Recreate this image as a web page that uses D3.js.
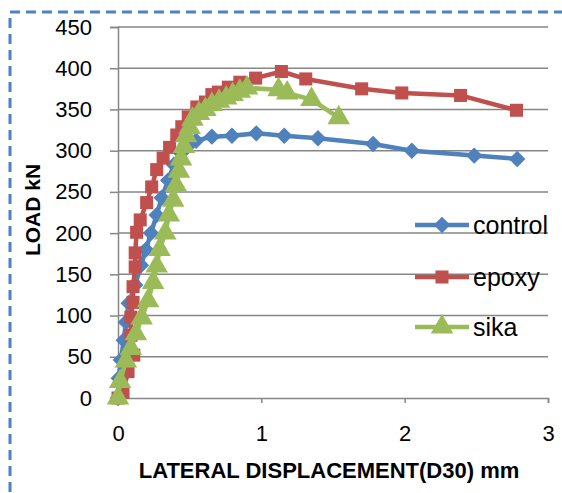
<!DOCTYPE html>
<html>
<head>
<meta charset="utf-8">
<script src="https://cdn.jsdelivr.net/npm/d3@7"></script>
<style>
  body { margin: 0; background: #fff; }
  text { font-family: "Liberation Sans", Arial, sans-serif; }
</style>
</head>
<body>
<svg id="chart" width="562" height="493"></svg>
<script>
// load (kN) vs lateral displacement (mm)
var controlX = [0, 0.005, 0.02, 0.04, 0.055, 0.075, 0.12, 0.16, 0.195, 0.23, 0.27, 0.305, 0.35, 0.39, 0.44, 0.49, 0.545, 0.655, 0.795, 0.965, 1.16, 1.395, 1.78, 2.05, 2.485, 2.785];
var controlY = [0, 24, 46, 70, 92, 115, 137, 161, 180, 200, 222, 243, 264, 283, 297, 306, 312, 317, 318, 321, 318, 315, 308, 300, 294, 290];

var epoxyX = [0, 0.035, 0.07, 0.11, 0.09, 0.09, 0.105, 0.105, 0.12, 0.12, 0.13, 0.155, 0.2, 0.235, 0.27, 0.315, 0.36, 0.41, 0.445, 0.49, 0.55, 0.61, 0.655, 0.7, 0.77, 0.85, 0.96, 1.14, 1.31, 1.7, 1.98, 2.39, 2.78];
var epoxyY = [0, 7, 32, 52, 76, 98, 116, 135, 159, 176, 201, 216, 237, 256, 277, 291, 304, 319, 329, 341, 353, 359, 368, 371, 377, 383, 388, 396, 387, 375, 370, 367, 349];

var sikaX = [0, 0.015, 0.055, 0.09, 0.125, 0.165, 0.21, 0.245, 0.27, 0.29, 0.33, 0.355, 0.385, 0.405, 0.425, 0.44, 0.46, 0.475, 0.5, 0.52, 0.565, 0.61, 0.655, 0.705, 0.755, 0.8, 0.85, 0.9, 1.12, 1.18, 1.35, 1.54];
var sikaY = [0, 20, 45, 60, 78, 97, 118, 140, 160, 180, 200, 222, 240, 258, 275, 290, 305, 318, 328, 338, 345, 350, 356, 360, 364, 368, 372, 376, 374, 370, 362, 340];

var seriesNames = ["control", "epoxy", "sika"];
var xTicks = [0, 1, 2, 3];
var yTicks = [0, 50, 100, 150, 200, 250, 300, 350, 400, 450];

var svg = d3.select("#chart");

// dashed frame round the chart
svg.append("rect")
    .attr("x", 10).attr("y", 12)
    .attr("width", 600).attr("height", 520)
    .attr("fill", "none")
    .attr("stroke", "#4F81BD")
    .attr("stroke-width", 3)
    .attr("stroke-dasharray", "10,6");

var x = d3.scaleLinear().domain([0, 3]).range([118, 548]);
var y = d3.scaleLinear().domain([0, 450]).range([398, 27]);

var grey = "#868686";

/* gridlines */
svg.append("g")
  .selectAll("line")
  .data(yTicks.slice(1))
  .enter().append("line")
    .attr("x1", x(0)).attr("x2", x(3))
    .attr("y1", function(d) { return y(d); })
    .attr("y2", function(d) { return y(d); })
    .attr("stroke", grey)
    .attr("stroke-width", 1.5);

/* y axis */
var yAxis = svg.append("g")
    .attr("transform", "translate(" + x(0) + ",0)")
    .call(d3.axisLeft(y).tickValues(yTicks).tickSize(8).tickPadding(18));
yAxis.select(".domain").attr("stroke", grey).attr("stroke-width", 1.5);
yAxis.selectAll(".tick line").attr("stroke", grey).attr("stroke-width", 1.5);
yAxis.selectAll("text")
    .attr("fill", "#000")
    .style("font-size", "22px");

/* x axis */
var xAxis = svg.append("g")
    .attr("transform", "translate(0," + y(0) + ")")
    .call(d3.axisBottom(x).tickValues(xTicks).tickFormat(d3.format("d")).tickSize(5).tickPadding(22));
xAxis.select(".domain").attr("stroke", grey).attr("stroke-width", 1.5);
xAxis.selectAll(".tick line").attr("stroke", grey).attr("stroke-width", 1.5);
xAxis.selectAll("text")
    .attr("fill", "#000")
    .style("font-size", "22px");

/* axis titles */
svg.append("text")
    .attr("x", 329).attr("y", 478)
    .attr("text-anchor", "middle")
    .attr("font-weight", "bold")
    .style("font-size", "22px")
    .text("LATERAL DISPLACEMENT(D30) mm");

svg.append("text")
    .attr("transform", "translate(40,210) rotate(-90)")
    .attr("text-anchor", "middle")
    .attr("font-weight", "bold")
    .style("font-size", "21px")
    .text("LOAD kN");

/* series */
var colors = ["#4F81BD", "#C0504D", "#9BBB59"];
var symbols = [
  d3.symbol().type(d3.symbolSquare).size(135),
  d3.symbol().type(d3.symbolSquare).size(170),
  d3.symbol().type(d3.symbolTriangle).size(220)
];
var rotate = [45, 0, 0];

var data = [
  controlX.map(function(v, i) { return [v, controlY[i]]; }),
  epoxyX.map(function(v, i) { return [v, epoxyY[i]]; }),
  sikaX.map(function(v, i) { return [v, sikaY[i]]; })
];

var line = d3.line()
    .x(function(d) { return x(d[0]); })
    .y(function(d) { return y(d[1]); });

data.forEach(function(pts, k) {
  var g = svg.append("g");
  g.append("path")
      .datum(pts)
      .attr("d", line)
      .attr("fill", "none")
      .attr("stroke", colors[k])
      .attr("stroke-width", 4.5)
      .attr("stroke-linejoin", "round");
  g.selectAll("path.mark")
    .data(pts)
    .enter().append("path")
      .attr("class", "mark")
      .attr("d", symbols[k])
      .attr("transform", function(d) { return "translate(" + x(d[0]) + "," + y(d[1]) + ") rotate(" + rotate[k] + ")"; })
      .attr("fill", colors[k]);
});

/* legend */
var legend = svg.selectAll(".legend")
    .data(seriesNames)
    .enter().append("g")
      .attr("class", "legend")
      .attr("transform", function(d, i) { return "translate(415," + [225, 277, 327][i] + ")"; });

legend.append("line")
    .attr("x1", 0).attr("x2", 54)
    .attr("stroke", function(d, i) { return colors[i]; })
    .attr("stroke-width", 4.5);

legend.append("path")
    .attr("d", function(d, i) { return symbols[i](); })
    .attr("transform", function(d, i) { return "translate(27,0) rotate(" + rotate[i] + ")"; })
    .attr("fill", function(d, i) { return colors[i]; });

legend.append("text")
    .attr("x", 58)
    .attr("dy", "0.35em")
    .attr("fill", "#000")
    .style("font-size", "25px")
    .text(function(d) { return d; });
</script>
</body>
</html>
